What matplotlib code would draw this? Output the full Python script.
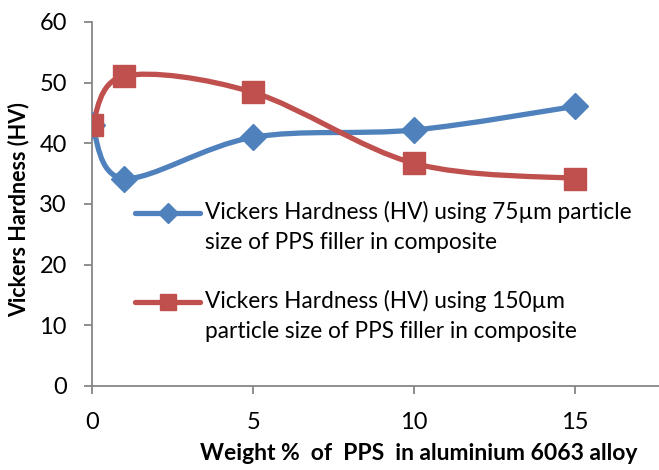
import matplotlib
matplotlib.use("Agg")
import matplotlib.pyplot as plt
from matplotlib.path import Path
from matplotlib.patches import PathPatch
from matplotlib.lines import Line2D
import numpy as np

plt.rcParams['font.family'] = ['Lato', 'DejaVu Sans']

# Data
weight_pct = [0, 1, 5, 10, 15]
hv_75um = [43.0, 34.2, 41.0, 42.2, 46.1]
hv_150um = [43.0, 51.1, 48.4, 36.7, 34.2]

label_75 = "Vickers Hardness (HV) using 75\u00b5m particle\nsize of PPS filler in composite"
label_150 = "Vickers Hardness (HV) using 150\u00b5m\nparticle size of PPS filler in composite"

BLUE = '#4F81BD'
RED = '#C0504D'
GRAY = '#868686'


def smooth_path(xs, ys):
    """Excel-like smoothed line: cubic Bezier through points (Catmull-Rom)."""
    pts = np.column_stack([xs, ys]).astype(float)
    n = len(pts)
    verts = [pts[0]]
    codes = [Path.MOVETO]
    for i in range(n - 1):
        p0 = pts[i - 1] if i > 0 else pts[i]
        p1 = pts[i]
        p2 = pts[i + 1]
        p3 = pts[i + 2] if i + 2 < n else pts[i + 1]
        c1 = p1 + (p2 - p0) / 6.0
        c2 = p2 - (p3 - p1) / 6.0
        verts += [c1, c2, p2]
        codes += [Path.CURVE4] * 3
    return Path(verts, codes)


fig = plt.figure(figsize=(6.59, 4.70), dpi=100)
ax = fig.add_axes([92 / 659, 84 / 470, 1 - 92 / 659, (386 - 22) / 470])

for ys, color in [(hv_75um, BLUE), (hv_150um, RED)]:
    ax.add_patch(PathPatch(smooth_path(weight_pct, ys), facecolor='none',
                           edgecolor=color, lw=3.8, capstyle='round', zorder=3))

ax.plot(weight_pct, hv_75um, linestyle='none', marker='D', markersize=13,
        color=BLUE, zorder=4)
ax.plot(weight_pct, hv_150um, linestyle='none', marker='s', markersize=16,
        color=RED, zorder=5)

ax.set_xlim(0, 17.6)
ax.set_ylim(0, 60)
ax.set_xticks([0, 5, 10, 15])
ax.set_yticks(range(0, 61, 10))
for side in ['top', 'right']:
    ax.spines[side].set_visible(False)
for side in ['left', 'bottom']:
    ax.spines[side].set_color(GRAY)
    ax.spines[side].set_linewidth(1.3)
ax.tick_params(axis='both', direction='out', length=6, width=1.3,
               color=GRAY, labelsize=17, labelcolor='black')
ax.tick_params(axis='x', pad=13)
ax.tick_params(axis='y', pad=12)

fig.text(19 / 659, 1 - 210 / 470, 'Vickers Hardness (HV)', rotation=90,
         ha='center', va='center', fontsize=15.5, fontweight='bold')
fig.text(419 / 659, 1 - 453 / 470, 'Weight %  of  PPS  in aluminium 6063 alloy',
         ha='center', va='center', fontsize=16.5, fontweight='bold')

# Legend (drawn by hand to match layout)
for y_px, color, marker, ms, label in [(213, BLUE, 'D', 10, label_75),
                                       (302, RED, 's', 11, label_150)]:
    yf = 1 - y_px / 470
    fig.add_artist(Line2D([135 / 659, 200 / 659], [yf, yf], color=color, lw=3.8,
                          solid_capstyle='round'))
    fig.add_artist(Line2D([167.5 / 659], [yf], marker=marker, markersize=ms,
                          color=color))
    fig.text(205 / 659, yf + 12 / 470, label, ha='left', va='top',
             fontsize=16.3, linespacing=1.5)

fig.savefig('out.png', dpi=100)
